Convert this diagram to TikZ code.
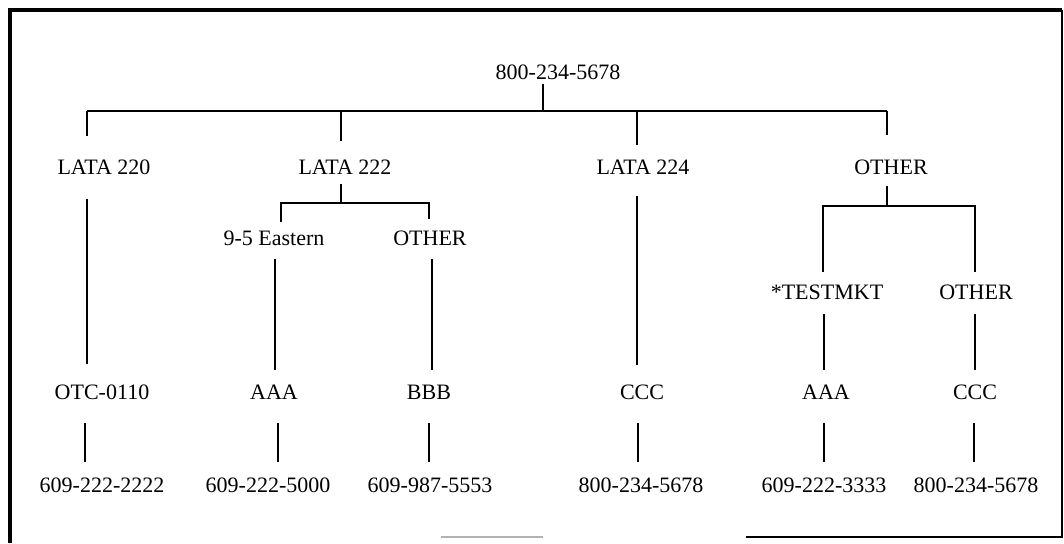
\documentclass[tikz,border=0pt]{standalone}
\usepackage{fontspec}
\setmainfont{Liberation Serif}
\usetikzlibrary{calc}

\begin{document}
\begin{tikzpicture}[x=1pt, y=-1pt, line width=1.3pt,
    lbl/.style={inner sep=0pt, font=\fontsize{22}{25}\selectfont}]
    \useasboundingbox (0,0) rectangle (1064,543);
    % frame
    \draw[line width=3.5pt] ({10},{543}) -- ({10},{10}) -- ({1062},{10});
    \draw[line width=1.5pt] ({1062},{10}) -- ({1062},{537}) -- ({746},{537});
    \draw[black!30] ({441},{537}) -- ({543},{537});

    \node[lbl] (root) at ({558},{72}) {800-234-5678};

    \node[lbl] (l220) at ({104},{167}) {LATA 220};
    \node[lbl] (l222) at ({345},{167}) {LATA 222};
    \node[lbl] (l224) at ({643},{167}) {LATA 224};
    \node[lbl] (oth) at ({891},{167}) {OTHER};

    \node[lbl] (east) at ({274},{238}) {9-5 Eastern};
    \node[lbl] (oth222) at ({430},{238}) {OTHER};
    \node[lbl] (test) at ({827},{292}) {*TESTMKT};
    \node[lbl] (othoth) at ({976},{292}) {OTHER};

    \node[lbl] (otc) at ({102},{392}) {OTC-0110};
    \node[lbl] (aaa1) at ({274},{392}) {AAA};
    \node[lbl] (bbb) at ({429},{392}) {BBB};
    \node[lbl] (ccc1) at ({642},{392}) {CCC};
    \node[lbl] (aaa2) at ({826},{392}) {AAA};
    \node[lbl] (ccc2) at ({975},{392}) {CCC};

    \node[lbl] (p1) at ({102},{485}) {609-222-2222};
    \node[lbl] (p2) at ({268},{485}) {609-222-5000};
    \node[lbl] (p3) at ({430},{485}) {609-987-5553};
    \node[lbl] (p4) at ({641},{485}) {800-234-5678};
    \node[lbl] (p5) at ({824},{485}) {609-222-3333};
    \node[lbl] (p6) at ({976},{485}) {800-234-5678};

    % top level bar
    \coordinate (bar) at ({543},{111});
    \coordinate (c1) at ({87},{111});
    \coordinate (c2) at ({341},{111});
    \coordinate (c3) at ({637},{111});
    \coordinate (c4) at ({887},{111});
    \draw ($(root.south -| bar)+(0,4)$) -- (bar);
    \draw (c1) -- (c4);
    \draw (c1) -- ($(l220.north -| c1)+(0,-23)$);
    \draw (c2) -- ($(l222.north -| c2)+(0,-18)$);
    \draw (c3) -- ($(l224.north -| c3)+(0,-14)$);
    \draw (c4) -- ($(oth.north -| c4)+(0,-24)$);

    % LATA 222 split
    \coordinate (s2) at ({341},{203});
    \coordinate (s2a) at ({281},{203});
    \coordinate (s2b) at ({429},{203});
    \draw ($(l222.south -| s2)+(0,9)$) -- (s2);
    \draw ($(east.north -| s2a)+(0,-8)$) -- (s2a) -- (s2b) -- ($(oth222.north -| s2b)+(0,-11)$);

    % OTHER split
    \coordinate (s4) at ({887},{206});
    \coordinate (s4a) at ({823},{206});
    \coordinate (s4b) at ({975},{206});
    \draw ($(oth.south -| s4)+(0,11)$) -- (s4);
    \draw ($(test.north -| s4a)+(0,-12)$) -- (s4a) -- (s4b) -- ($(othoth.north -| s4b)+(0,-12)$);

    % long drops
    \draw ($(l220.south)+(-17,24)$) -- ($(otc.north)+(-15,-20)$);
    \draw ($(east.south)+(1,13)$) -- ($(aaa1.north)+(1,-14)$);
    \draw ($(oth222.south)+(2,13)$) -- ($(bbb.north)+(3,-14)$);
    \draw ($(l224.south)+(-6,21)$) -- ($(ccc1.north)+(-5,-19)$);
    \draw ($(test.south)+(-3,14)$) -- ($(aaa2.north)+(-2,-14)$);
    \draw ($(othoth.south)+(-1,14)$) -- ($(ccc2.north)+(0,-14)$);

    % to numbers
    \draw ($(otc.south)+(-17,23)$) -- ($(p1.north)+(-17,-15)$);
    \draw ($(aaa1.south)+(4,23)$) -- ($(p2.north)+(10,-15)$);
    \draw ($(bbb.south)+(0,23)$) -- ($(p3.north)+(-1,-15)$);
    \draw ($(ccc1.south)+(-4,23)$) -- ($(p4.north)+(-3,-15)$);
    \draw ($(aaa2.south)+(-2,23)$) -- ($(p5.north)+(0,-15)$);
    \draw ($(ccc2.south)+(-1,23)$) -- ($(p6.north)+(-2,-15)$);
\end{tikzpicture}
\end{document}
